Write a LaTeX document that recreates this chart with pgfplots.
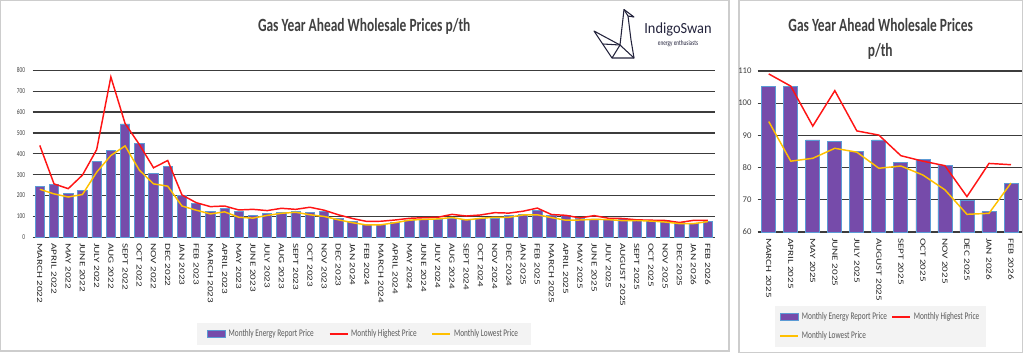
\documentclass[border=0pt]{standalone}
\usepackage{fontspec}
\setmainfont{Carlito}[FakeStretch=0.72]
\newfontfamily\rotfont{Carlito}[FakeStretch=1.39]
\newfontfamily\logofont{Carlito}[FakeStretch=0.93]
\newfontfamily\plainfont{Carlito}
\usepackage{pgfplots}
\pgfplotsset{compat=1.18}
\usepackage{pgfplotstable}

\definecolor{barfill}{RGB}{118,75,170}
\definecolor{baredge}{RGB}{91,155,213}
\definecolor{hired}{RGB}{255,20,20}
\definecolor{loyel}{RGB}{255,192,0}
\definecolor{txt}{RGB}{89,89,89}
\definecolor{ttl}{RGB}{64,64,64}
\definecolor{gridc}{RGB}{60,60,60}
\definecolor{framec}{RGB}{205,205,205}
\definecolor{legbg}{RGB}{243,243,243}
\definecolor{logoc}{RGB}{35,35,60}

\pgfplotstableread{
idx bar high low
0 243 440 230
1 253 256 208
2 209 233 193
3 223 298 205
4 365 420 312
5 414 768 392
6 543 545 438
7 450 445 322
8 308 333 256
9 341 368 245
10 199 203 150
11 163 166 130
12 123 147 112
13 137 150 122
14 123 131 96
15 103 134 92
16 115 128 105
17 120 139 115
18 122 134 120
19 118 144 108
20 123 130 100
21 92 108 84
22 76 90 70
23 63 76 59
24 62 77 60
25 72 83 70
26 83 91 82
27 88 94 86
28 86 96 88
29 92 110 95
30 86 102 83
31 91 107 91
32 91 118 96
33 103 116 96
34 111 125 107
35 128 140 108
36 105.1 109.1 94.3
37 105.2 105.3 82.0
38 88.6 92.9 82.9
39 88.0 103.9 86.0
40 85.0 91.4 84.8
41 88.6 90.1 79.8
42 81.6 83.7 80.5
43 82.4 82.0 77.7
44 80.8 80.6 73.1
45 69.7 71.0 65.5
46 66.3 81.3 65.8
47 75.2 80.9 75.2
}\lefttable

\pgfplotstableread{
idx bar high low
0 105.1 109.1 94.3
1 105.2 105.3 82.0
2 88.6 92.9 82.9
3 88.0 103.9 86.0
4 85.0 91.4 84.8
5 88.6 90.1 79.8
6 81.6 83.7 80.5
7 82.4 82.0 77.7
8 80.8 80.6 73.1
9 69.7 71.0 65.5
10 66.3 81.3 65.8
11 75.2 80.9 75.2
}\righttable

\pgfplotsset{
  gasstyle/.style={
    scale only axis,
    axis line style={draw=none},
    major tick length=0pt,
    ymajorgrids,
    grid style={gridc, line width=0.9pt},
    x tick label style={font=\rotfont\fontsize{6}{6}\selectfont, rotate=-90, anchor=west, text=black!85, inner sep=0pt},
    xticklabel shift=4.3pt,
    y tick label style={font=\fontsize{5.6}{6}\selectfont, text=ttl, inner sep=0pt},
    yticklabel shift=5.5pt,
    /pgf/number format/assume math mode=true,
    clip=false,
    legend cell align=left,
    legend style={fill=legbg, draw=none, font=\fontsize{7.6}{8}\selectfont, text=txt,
      /tikz/every even column/.append style={column sep=9pt},
      inner xsep=8pt, inner ysep=3pt, row sep=3pt},
  },
  barstyle/.style={ybar, bar shift=0pt, fill=barfill, draw=baredge, line width=0.6pt,
    legend image code/.code={\draw[fill=barfill,draw=baredge,line width=0.6pt] (0pt,-2.6pt) rectangle (13.5pt,2.6pt);}},
  histyle/.style={hired, line width=1.1pt, sharp plot, no markers,
    legend image code/.code={\draw[hired,line width=1.6pt] (0pt,0pt) -- (13.5pt,0pt);}},
  lostyle/.style={loyel, line width=1.1pt, sharp plot, no markers,
    legend image code/.code={\draw[loyel,line width=1.6pt] (0pt,0pt) -- (13.5pt,0pt);}},
}

\begin{document}
\begin{tikzpicture}
\useasboundingbox (0,0) rectangle (768pt,-266.25pt);

\begin{scope}[x=0.75pt,y=-0.75pt]
  % panel frames
  \draw[framec, line width=0.8pt] (0.8,0.8) rectangle (729,351);
  \draw[framec, line width=0.8pt] (739,0.8) rectangle (1022.5,352.5);
  % titles
  \node[anchor=base, font=\bfseries\fontsize{14}{14}\selectfont, text=ttl, inner sep=0pt] at (364.2,31.3) {Gas Year Ahead Wholesale Prices p/th};
  \node[anchor=base, font=\bfseries\fontsize{14}{14}\selectfont, text=ttl, inner sep=0pt] at (880.7,31.5) {Gas Year Ahead Wholesale Prices};
  \node[anchor=base, font=\bfseries\fontsize{14}{14}\selectfont, text=ttl, inner sep=0pt] at (880.2,56.5) {p/th};
  % logo
  \node[anchor=base, font=\logofont\fontsize{11.6}{12}\selectfont, text=logoc, inner sep=0pt] at (678,33.3) {IndigoSwan};
  \node[anchor=base, font=\fontsize{5.5}{6}\selectfont, text=logoc, inner sep=0pt] at (678,45) {energy enthusiasts};
  \draw[logoc, line width=0.8pt, line join=round]
     (594,31) -- (612,58) -- (634,58) -- (631,40) -- (628,16) -- (634,17) -- (624,9.5) -- (620,45) -- cycle;
  \draw[logoc, line width=0.8pt, line join=round] (612,58) -- (620,45) -- (634,58);
  \draw[logoc, line width=0.8pt] (624,9.5) -- (628,16);
  \draw[logoc, line width=0.8pt] (603,44) -- (620,45);
\end{scope}

% left chart
\begin{axis}[gasstyle,
  at={(24.525pt,-177.975pt)}, anchor=south west,
  width=511.7pt, height=125.25pt,
  xmin=-0.5, xmax=47.5, ymin=0, ymax=800,
  ytick={0,100,...,800},
  xtick={0,...,47},
  xticklabels={MARCH 2022, APRIL 2022, MAY 2022, JUNE 2022, JULY 2022, AUG 2022, SEPT 2022, OCT 2022, NOV 2022, DEC 2022, JAN 2023, FEB 2023, MARCH 2023, APRIL 2023, MAY 2023, JUNE 2023, JULY 2023, AUG 2023, SEPT 2023, OCT 2023, NOV 2023, DEC 2023, JAN 2024, FEB 2024, MARCH 2024, APRIL 2024, MAY 2024, JUNE 2024, JULY 2024, AUG 2024, SEPT 2024, OCT 2024, NOV 2024, DEC 2024, JAN 2025, FEB 2025, MARCH 2025, APRIL 2025, MAY 2025, JUNE 2025, JULY 2025, AUGUST 2025, SEPT 2025, OCT 2025, NOV 2025, DEC 2025, JAN 2026, FEB 2026},
  legend columns=3,
  legend style={at={(0.4856,-0.579)}, anchor=center},
]
\addplot[barstyle, bar width=7pt] table[x=idx, y=bar] {\lefttable};
\addlegendentry{Monthly Energy Report Price}
\addplot[histyle] table[x=idx, y=high] {\lefttable};
\addlegendentry{Monthly Highest Price}
\addplot[lostyle] table[x=idx, y=low] {\lefttable};
\addlegendentry{Monthly Lowest Price}
\end{axis}

% right chart
\begin{axis}[gasstyle,
  at={(568.3pt,-174pt)}, anchor=south west,
  width=198.2pt, height=120.75pt,
  xmin=-0.5, xmax=11.5, ymin=60, ymax=110,
  ytick={60,70,...,110},
  y tick label style={font=\plainfont\fontsize{6.5}{7}\selectfont},
  yticklabel shift=4.5pt,
  xtick={0,...,11},
  xticklabels={MARCH 2025, APRIL 2025, MAY 2025, JUNE 2025, JULY 2025, AUGUST 2025, SEPT 2025, OCT 2025, NOV 2025, DEC 2025, JAN 2026, FEB 2026},
  legend columns=2,
  legend style={at={(0.4646,-0.587)}, anchor=center, inner xsep=3pt, /tikz/every even column/.append style={column sep=1pt}},
]
\addplot[barstyle, bar width=10.5pt] table[x=idx, y=bar] {\righttable};
\addlegendentry{Monthly Energy Report Price}
\addplot[histyle] table[x=idx, y=high] {\righttable};
\addlegendentry{Monthly Highest Price}
\addplot[lostyle] table[x=idx, y=low] {\righttable};
\addlegendentry{Monthly Lowest Price}
\end{axis}
\end{tikzpicture}
\end{document}
